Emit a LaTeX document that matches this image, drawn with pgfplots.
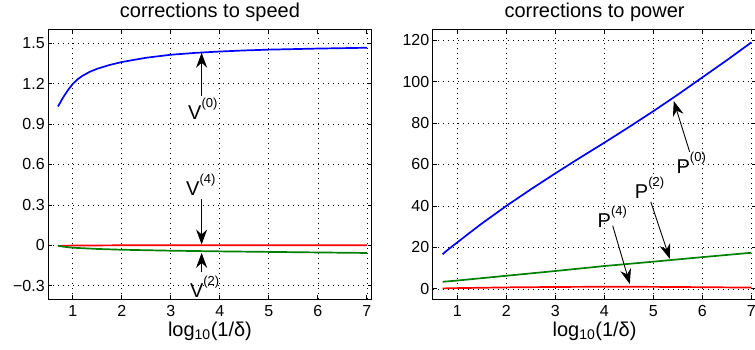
\documentclass[border=0pt]{standalone}
\usepackage{fontspec}
\setmainfont{Liberation Sans}
\usepackage{pgfplots}
\pgfplotsset{compat=1.18}
\usetikzlibrary{arrows.meta}
\definecolor{mblue}{rgb}{0,0,1}
\definecolor{mgreen}{rgb}{0,0.5,0}
\definecolor{mred}{rgb}{1,0,0}
\newcommand{\supr}[1]{\raisebox{12pt}{\fontsize{13}{15}\selectfont(#1)}}
\pgfplotsset{mystyle/.style={
  scale only axis, width=323.5pt, height=269.5pt,
  xmin=0.5, xmax=7.1, xtick={1,2,3,4,5,6,7},
  grid=major,
  grid style={black, line width=0.55pt, dash pattern=on 0.9pt off 4.1pt},
  axis line style={black, line width=1pt},
  tick style={black, line width=0.7pt}, tick align=inside, major tick length=4pt,
  /pgf/number format/assume math mode=true,
  ticklabel style={font=\fontsize{16}{18}\selectfont},
  xticklabel style={yshift=-3pt},
  every axis title shift=0pt,
  title style={font=\fontsize{20}{24}\selectfont, at={(axis description cs:0.5,1)}, anchor=base, yshift=12.5pt},
  xlabel style={font=\fontsize{20}{24}\selectfont, at={(axis description cs:0.5,0)}, anchor=base, yshift=-37.5pt},
  xlabel={log\textsubscript{10}(1/δ)},
  every axis plot/.append style={line width=1.7pt},
}}
\tikzset{ann/.style={-{Stealth[length=15pt,width=11pt,inset=5pt]}, line width=0.9pt, black},
  lab/.style={anchor=base west, inner sep=0pt, font=\fontsize{20}{24}\selectfont}}
\begin{document}
\begin{tikzpicture}
\useasboundingbox (0,0) rectangle (755pt,350pt);
\begin{axis}[mystyle, at={(48.2pt,50.8pt)}, anchor=south west,
  ymin=-0.4, ymax=1.6,
  ytick={-0.3,0,0.3,0.6,0.9,1.2,1.5},
  yticklabels={−0.3,0,0.3,0.6,0.9,1.2,1.5},
  title={corrections to speed}]
\addplot[mblue] coordinates {(0.7,1.03) (0.8,1.095) (0.9,1.150) (1.0,1.197) (1.1,1.232) (1.2,1.258) (1.35,1.288) (1.5,1.310) (1.75,1.338) (2.0,1.360) (2.5,1.392) (3.0,1.414) (3.5,1.428) (4.0,1.438) (4.5,1.446) (5.0,1.452) (5.5,1.456) (6.0,1.460) (6.5,1.463) (7.0,1.466)};
\addplot[mred] coordinates {(0.7,-0.005) (0.85,-0.003) (1.0,-0.002) (1.5,-0.001) (2.0,0.0) (3.0,0.0) (4.0,0.0) (5.0,0.001) (6.0,0.001) (7.0,0.001)};
\addplot[mgreen] coordinates {(0.7,-0.003) (0.8,-0.010) (1.0,-0.018) (1.5,-0.027) (2.0,-0.033) (3.0,-0.040) (4.0,-0.045) (5.0,-0.049) (6.0,-0.053) (7.0,-0.057)};
\draw[ann] (axis cs:3.63,1.107) -- (axis cs:3.63,1.429);
\node[lab] at (axis cs:3.353,0.934) {V\supr{0}};
\draw[ann] (axis cs:3.63,0.34) -- (axis cs:3.63,0.006);
\node[lab] at (axis cs:3.312,0.37) {V\supr{4}};
\draw[ann] (axis cs:3.63,-0.20) -- (axis cs:3.63,-0.056);
\node[lab] at (axis cs:3.39,-0.386) {V\supr{2}};
\end{axis}
\begin{axis}[mystyle, at={(432.8pt,50.8pt)}, anchor=south west,
  ymin=-5, ymax=125,
  ytick={0,20,40,60,80,100,120},
  title={corrections to power}]
\addplot[mblue] coordinates {(0.7,16.7) (0.8,18.7) (0.9,20.6) (1.0,22.4) (1.25,27.0) (1.5,31.5) (2.0,40.0) (2.5,48.0) (3.0,55.7) (3.5,63.2) (4.0,70.5) (4.5,78.0) (5.0,85.7) (5.5,93.7) (6.0,102.0) (6.5,110.3) (7.0,118.9)};
\addplot[mgreen] coordinates {(0.7,3.4) (1.0,4.0) (2.0,6.3) (3.0,8.6) (4.0,11.0) (5.0,13.1) (6.0,15.3) (7.0,17.4)};
\addplot[mred] coordinates {(0.7,0.2) (1.0,0.35) (2.0,0.7) (3.0,0.9) (4.0,1.0) (5.0,0.95) (6.0,0.8) (7.0,0.6)};
\draw[ann] (axis cs:5.74,66.1) -- (axis cs:5.416,90.6);
\node[lab] at (axis cs:5.47,55.5) {P\supr{0}};
\draw[ann] (axis cs:4.947,42.0) -- (axis cs:5.334,14.5);
\node[lab] at (axis cs:4.62,43.6) {P\supr{2}};
\draw[ann] (axis cs:4.17,30.5) -- (axis cs:4.52,2.3);
\node[lab] at (axis cs:3.86,29.4) {P\supr{4}};
\end{axis}
\end{tikzpicture}
\end{document}
